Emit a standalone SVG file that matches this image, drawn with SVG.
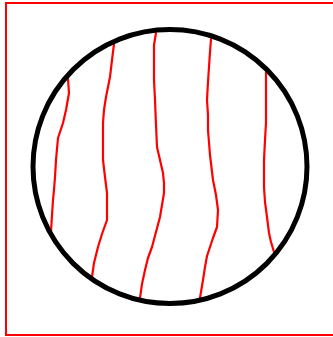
<svg xmlns="http://www.w3.org/2000/svg" width="333" height="337" viewBox="0 0 333 337">
<style>
.frame{fill:none;stroke:#ff0000;stroke-width:2}
.ring{fill:none;stroke:#000;stroke-width:5}
.vein{fill:none;stroke:#ff0000;stroke-width:2.2;stroke-linejoin:round;stroke-linecap:round}
</style>
<rect class="frame" x="6" y="3" width="330" height="332"/>
<g id="lines">
<polyline class="vein" points="68,79 69,93 66,110 63,123 58,138 56,160 55,177 54,190 53,200 52,215 51,232"/>
<polyline class="vein" points="114,44 112,60 110,77 106,97 104,110 103,123 103,140 103,160 105,177 107,193 107,205 107,220 102,234 98,247 94,263 92,277"/>
<polyline class="vein" points="156,33 154,45 154,60 154,80 155,100 156,125 157,147 160,160 163,173 164,183 164,193 162,205 160,217 156,232 152,247 148,258 145,270 142,284 140,298"/>
<polyline class="vein" points="211,39 210,52 209,67 208,82 207,100 208,115 208,130 210,155 213,180 216,195 218,210 217,227 213,238 210,247 207,256 205,267 203,280 200,298"/>
<polyline class="vein" points="266,72 266,95 266,123 265,140 264,160 264,175 264,187 265,202 267,217 269,233 271,242 274,252"/>
</g>
<g id="circle">
<circle class="ring" cx="170" cy="166.5" r="137"/>
</g>
</svg>
